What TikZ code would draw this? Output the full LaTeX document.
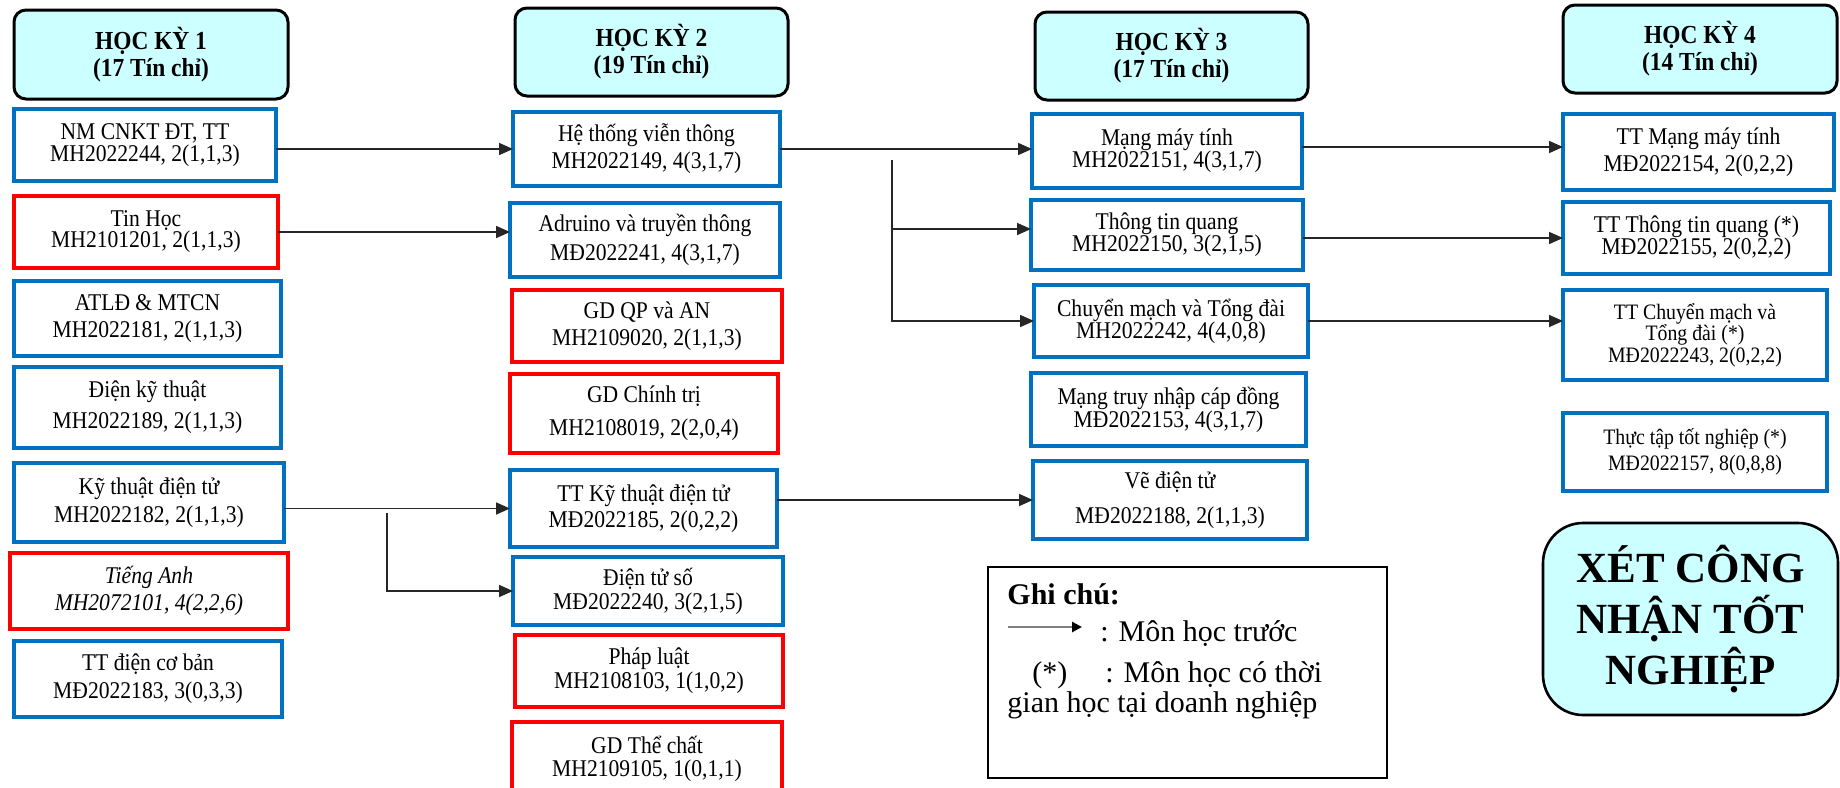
\documentclass[tikz,border=0pt]{standalone}
\usepackage{fontspec}
\setmainfont{Liberation Serif}
\usetikzlibrary{arrows.meta}
\definecolor{cblue}{HTML}{0070C0}
\definecolor{cred}{HTML}{FF0000}
\definecolor{ccyan}{HTML}{CCFFFF}
\definecolor{cline}{HTML}{262626}
\tikzset{
  cbox/.style={draw, line width=1.6pt, inner sep=0pt, outer sep=0pt, align=center, fill=white, xscale=0.9, transform shape},
  bl/.style={cbox, draw=cblue},
  rd/.style={cbox, draw=cred},
  fs/.style={font=\fontsize{12}{#1}\selectfont},
  hdr/.style={draw=black, line width=1.5pt, rounded corners=6pt, fill=ccyan, inner sep=0pt, outer sep=0pt, align=center, xscale=0.9, transform shape, font=\fontsize{13}{13.5}\selectfont\bfseries},
  conn/.style={draw=cline, line width=0.8pt, -{Triangle[length=7pt,width=6pt]}},
  note/.style={anchor=base west, inner sep=0pt, font=\fontsize{15}{16}\selectfont},
}
% scaled box (text condensed to 0.9)
\newcommand\cb[7]{\node[#6, minimum width={(#4-#2)*0.5pt/0.9}, minimum height={(#5-#3)*0.5pt}] (#1) at ({(#2+#4)/2},{(#3+#5)/2}) {#7};}
% plain box
\newcommand\pb[7]{\node[#6, minimum width={(#4-#2)*0.5pt}, minimum height={(#5-#3)*0.5pt}] (#1) at ({(#2+#4)/2},{(#3+#5)/2}) {#7};}
\begin{document}
\begin{tikzpicture}[x=0.5pt, y=-0.5pt]
\fill[white] (0,0) rectangle (1840,787);
\useasboundingbox (0,0) rectangle (1840,787);
% headers
\cb{h1}{14}{10}{288}{99}{hdr}{HỌC KỲ 1\\(17 Tín chỉ)}
\cb{h2}{515}{8}{788}{96}{hdr}{HỌC KỲ 2\\(19 Tín chỉ)}
\cb{h3}{1035}{12}{1308}{100}{hdr}{HỌC KỲ 3\\(17 Tín chỉ)}
\cb{h4}{1563}{5}{1837}{93}{hdr}{HỌC KỲ 4\\(14 Tín chỉ)}
% column 1
\cb{n11}{14}{109}{276}{181}{bl,fs=11}{NM CNKT ĐT, TT\\MH2022244, 2(1,1,3)}
\cb{n12}{14}{196}{278}{268}{rd,fs=10.5}{Tin Học\\MH2101201, 2(1,1,3)}
\cb{n13}{14}{281}{281}{356}{bl,fs=13.5}{ATLĐ \& MTCN\\MH2022181, 2(1,1,3)}
\cb{n14}{14}{367}{281}{448}{bl,fs=15.5}{Điện kỹ thuật\\MH2022189, 2(1,1,3)}
\cb{n15}{14}{463}{284}{542}{bl,fs=14}{Kỹ thuật điện tử\\MH2022182, 2(1,1,3)}
\cb{n16}{10}{553}{288}{629}{rd,font={\fontsize{12}{13.5}\selectfont\itshape}}{Tiếng Anh\\MH2072101, 4(2,2,6)}
\cb{n17}{14}{641}{282}{717}{bl,fs=14}{TT điện cơ bản\\MĐ2022183, 3(0,3,3)}
% column 2
\cb{n21}{513}{112}{780}{186}{bl,fs=13.5}{Hệ thống viễn thông\\MH2022149, 4(3,1,7)}
\cb{n22}{510}{203}{780}{277}{bl,fs=14.5}{Adruino và truyền thông\\MĐ2022241, 4(3,1,7)}
\cb{n23}{512}{290}{782}{362}{rd,fs=13.5}{GD QP và AN\\MH2109020, 2(1,1,3)}
\cb{n24}{510}{374}{778}{453}{rd,fs=16.5}{GD Chính trị\\MH2108019, 2(2,0,4)}
\cb{n25}{510}{470}{777}{547}{bl,fs=13}{TT Kỹ thuật điện tử\\MĐ2022185, 2(0,2,2)}
\cb{n26}{513}{557}{783}{625}{bl,fs=12}{Điện tử số\\MĐ2022240, 3(2,1,5)}
\cb{n27}{515}{635}{783}{707}{rd,fs=10.5}{Pháp luật\\MH2108103, 1(1,0,2)}
\cb{n28}{512}{722}{782}{795}{rd,fs=11.5}{GD Thể chất\\MH2109105, 1(0,1,1)}
% column 3
\cb{n31}{1032}{114}{1302}{188}{bl,fs=11}{Mạng máy tính\\MH2022151, 4(3,1,7)}
\cb{n32}{1031}{200}{1303}{270}{bl,fs=11}{Thông tin quang\\MH2022150, 3(2,1,5)}
\cb{n33}{1034}{285}{1308}{357}{bl,fs=11}{Chuyển mạch và Tổng đài\\MH2022242, 4(4,0,8)}
\cb{n34}{1031}{373}{1306}{446}{bl,fs=11.5}{Mạng truy nhập cáp đồng\\MĐ2022153, 4(3,1,7)}
\cb{n35}{1033}{461}{1307}{539}{bl,fs=17.5}{Vẽ điện tử\\MĐ2022188, 2(1,1,3)}
% column 4
\cb{n41}{1563}{114}{1834}{190}{bl,fs=13.5}{TT Mạng máy tính\\MĐ2022154, 2(0,2,2)}
\cb{n42}{1563}{202}{1830}{274}{bl,fs=11}{TT Thông tin quang (*)\\MĐ2022155, 2(0,2,2)}
\cb{n43}{1563}{290}{1827}{380}{bl,font={\fontsize{11}{10.8}\selectfont}}{TT Chuyển mạch và\\Tổng đài (*)\\MĐ2022243, 2(0,2,2)}
\cb{n44}{1563}{413}{1827}{491}{bl,font={\fontsize{11}{13}\selectfont}}{Thực tập tốt nghiệp (*)\\MĐ2022157, 8(0,8,8)}
% final box
\pb{xet}{1543}{523}{1838}{715}{draw=black, line width=1.3pt, rounded corners=20pt, fill=ccyan, inner sep=0pt, align=center, font={\fontsize{21.5}{25.5}\selectfont\bfseries}}{XÉT CÔNG\\NHẬN TỐT\\NGHIỆP}
% legend box
\pb{gc}{988}{567}{1387}{778}{draw=black, line width=1pt, inner sep=0pt}{}
\node[note, font={\fontsize{15}{16}\selectfont\bfseries}] (g1) at (1007,604) {Ghi chú:};
\coordinate (la1) at (1008,627);
\coordinate (la2) at (1082,627);
\draw[draw=gray, line width=1.3pt, -{Triangle[length=5pt,width=5pt,color=black]}] (la1) -- (la2);
\node[note] (g2) at (1100,641) {: Môn học trước};
\node[note] (g3) at (1032,682) {(*)};
\node[note] (g4) at (1105,682) {: Môn học có thời};
\node[note] (g5) at (1007,712) {gian học tại doanh nghiệp};
% connectors
\draw[conn] (n11.east |- n21.west) -- (n21.west);
\draw[conn] (n12.east) -- (n12.east -| n22.west);
\draw[conn] (n15.east |- n25.west) -- (n25.west);
\coordinate (b1) at (387,513);
\draw[conn] (b1) |- (n26.west);
\draw[conn] (n21.east) -- (n21.east -| n31.west);
\coordinate (b2) at (892,160);
\draw[conn] (b2) |- ([yshift=3pt]n32.west);
\draw[conn] (b2) |- (n33.west);
\draw[conn] (n25.east |- n35.west) -- (n35.west);
\draw[conn] ([yshift=2pt]n31.east) -- ([yshift=2pt]n31.east -| n41.west);
\draw[conn] (n42.west -| n32.east) -- (n42.west);
\draw[conn] (n33.east) -- (n33.east -| n43.west);
\end{tikzpicture}
\end{document}
